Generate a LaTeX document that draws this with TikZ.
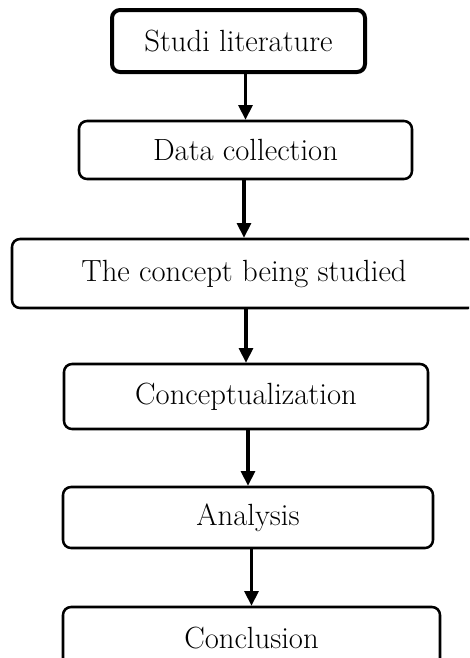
\documentclass[tikz,border=0pt]{standalone}
\usetikzlibrary{positioning,arrows.meta}

\begin{document}
\begin{tikzpicture}[x=0.75pt, y=-0.75pt,
    every node/.style={font=\fontsize{23}{27}\selectfont},
    stepbox/.style={draw, rectangle, rounded corners=6pt, line width=1.9pt, align=center, inner sep=0pt},
    arr/.style={-{Triangle[length=11pt,width=10.5pt]}, line width=2.3pt}]
  \clip (0,0) rectangle (469,658);
  \node[stepbox, line width=3pt, minimum width=189.75pt, minimum height=46.5pt] (studi) at (238.5,41) {Studi literature};
  \node[stepbox, minimum width=249.75pt, minimum height=43.5pt] (data) at (245.5,150) {Data collection};
  \node[stepbox, minimum width=348pt, minimum height=51.75pt] (concept) at (244,273.5) {The concept being studied};
  \node[stepbox, minimum width=273pt, minimum height=48.75pt] (conceptual) at (246,396.5) {Conceptualization};
  \node[stepbox, minimum width=277.5pt, minimum height=45.75pt] (analysis) at (248,517.5) {Analysis};
  \node[stepbox, minimum width=282.75pt, minimum height=46.5pt] (conclusion) at (251.5,638) {Conclusion};
  \draw[arr] (data.north |- studi.south) -- (data.north);
  \draw[arr] (concept.north |- data.south) -- (concept.north);
  \draw[arr] (conceptual.north |- concept.south) -- (conceptual.north);
  \draw[arr] (analysis.north |- conceptual.south) -- (analysis.north);
  \draw[arr] (conclusion.north |- analysis.south) -- (conclusion.north);
\end{tikzpicture}
\end{document}
